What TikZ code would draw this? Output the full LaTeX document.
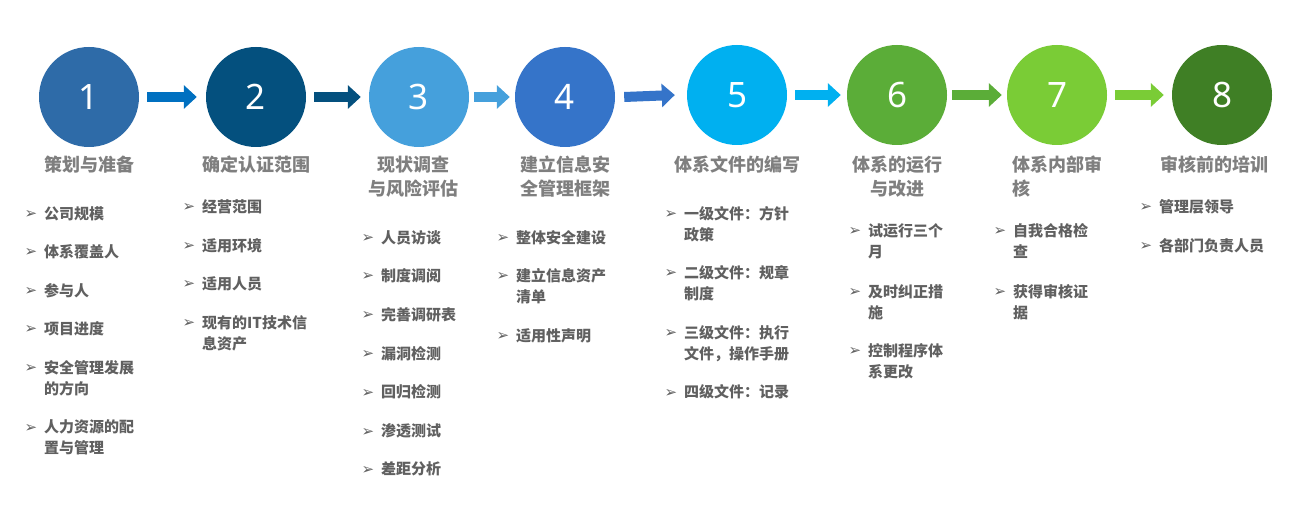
\documentclass[tikz,border=0pt]{standalone}
\usepackage{fontspec}
\newfontfamily\cjk{Noto Sans CJK SC}
\newfontfamily\numf{Noto Sans}
\newfontfamily\dvs{DejaVu Sans}
\usetikzlibrary{arrows.meta,calc}
\definecolor{cA}{HTML}{2E6BA8}\definecolor{cB}{HTML}{04507E}
\definecolor{cC}{HTML}{45A0DC}\definecolor{cD}{HTML}{3574C9}
\definecolor{cE}{HTML}{00B0F0}\definecolor{cF}{HTML}{5BAD38}
\definecolor{cG}{HTML}{7ACC36}\definecolor{cH}{HTML}{3F7F25}
\definecolor{aA}{HTML}{0070C0}\definecolor{tgray}{HTML}{7F7F7F}
\definecolor{bgray}{HTML}{606060}
\tikzset{
 num/.style={circle,minimum size=100pt,inner sep=0,text=white,font=\numf\fontsize{35}{35}\selectfont},
 ttl/.style={anchor=north,align=center,inner sep=0,text=tgray,font=\cjk\bfseries\fontsize{18}{24}\selectfont},
 itm/.style={anchor=north west,align=left,inner sep=0,text=bgray,font=\cjk\bfseries\fontsize{15}{21}\selectfont},
 bul/.style={inner sep=0,text=bgray,font=\dvs\fontsize{15}{15}\selectfont},
 flow/.style={line width=10pt,-{Triangle[length=13pt,width=23pt]}}
}
\begin{document}
\begin{tikzpicture}[x=1pt,y=-1pt]
\useasboundingbox[fill=white] (0,0) rectangle (1300,510);
\node[num,fill=cA] (c1) at (89,97) {1};
\node[num,fill=cB] (c2) at (256,97) {2};
\node[num,fill=cC] (c3) at (419,97) {3};
\node[num,fill=cD] (c4) at (565,97) {4};
\node[num,fill=cE] (c5) at (737,95) {5};
\node[num,fill=cF] (c6) at (897,95) {6};
\node[num,fill=cG] (c7) at (1057,95) {7};
\node[num,fill=cH] (c8) at (1222,95) {8};
\draw[flow,aA] ($(c1.east)+(8,0)$) -- ($(c2.west)+(-9,0)$);
\draw[flow,cB] ($(c2.east)+(8,0)$) -- ($(c3.west)+(-8,0)$);
\draw[flow,cC] ($(c3.east)+(5,0)$) -- ($(c4.west)+(-5,0)$);
\draw[flow,cD] ($(c4.east)+(9,0)$) -- ($(c5.west)+(-12,0)$);
\draw[flow,cE] ($(c5.east)+(8,0)$) -- ($(c6.west)+(-6,0)$);
\draw[flow,cF] ($(c6.east)+(5,0)$) -- ($(c7.west)+(-5,0)$);
\draw[flow,cG] ($(c7.east)+(8,0)$) -- ($(c8.west)+(-8,0)$);
% titles
\node[ttl] (t1) at (89,156) {策划与准备};
\node[ttl] (t2) at (256,156) {确定认证范围};
\node[ttl] (t3) at (413,156) {现状调查\\与风险评估};
\node[ttl] (t4) at (565,156) {建立信息安\\全管理框架};
\node[ttl] (t5) at (737,156) {体系文件的编写};
\node[ttl] (t6) at (897,156) {体系的运行\\与改进};
\node[ttl,align=left] (t7) at (1057,156) {体系内部审\\核};
\node[ttl] (t8) at (1214,156) {审核前的培训};
% bullets
\newcommand\bl[4]{\node[bul] (#1b) at (#2,#3) {➢};\node[itm] (#1) at (#2+13,#3-9) {#4};}
\bl{a1}{31}{215}{公司规模}
\bl{a2}{31}{253}{体系覆盖人}
\bl{a3}{31}{292}{参与人}
\bl{a4}{31}{330}{项目进度}
\bl{a5}{31}{369}{安全管理发展\\的方向}
\bl{a6}{31}{428}{人力资源的配\\置与管理}
\bl{b1}{189}{208}{经营范围}
\bl{b2}{189}{247}{适用环境}
\bl{b3}{189}{285}{适用人员}
\bl{b4}{189}{324}{现有的IT技术信\\息资产}
\bl{c1}{368}{239}{人员访谈}
\bl{c2}{368}{277}{制度调阅}
\bl{c3}{368}{316}{完善调研表}
\bl{c4}{368}{355}{漏洞检测}
\bl{c5}{368}{393}{回归检测}
\bl{c6}{368}{432}{渗透测试}
\bl{c7}{368}{470}{差距分析}
\bl{d1}{503}{239}{整体安全建设}
\bl{d2}{503}{277}{建立信息资产\\清单}
\bl{d3}{503}{337}{适用性声明}
\bl{e1}{671}{215}{一级文件：方针\\政策}
\bl{e2}{671}{274}{二级文件：规章\\制度}
\bl{e3}{671}{334}{三级文件：执行\\文件，操作手册}
\bl{e4}{671}{393}{四级文件：记录}
\bl{f1}{855}{232}{试运行三个\\月}
\bl{f2}{855}{293}{及时纠正措\\施}
\bl{f3}{855}{352}{控制程序体\\系更改}
\bl{g1}{1000}{232}{自我合格检\\查}
\bl{g2}{1000}{293}{获得审核证\\据}
\bl{h1}{1146}{208}{管理层领导}
\bl{h2}{1146}{247}{各部门负责人员}
\end{tikzpicture}
\end{document}
